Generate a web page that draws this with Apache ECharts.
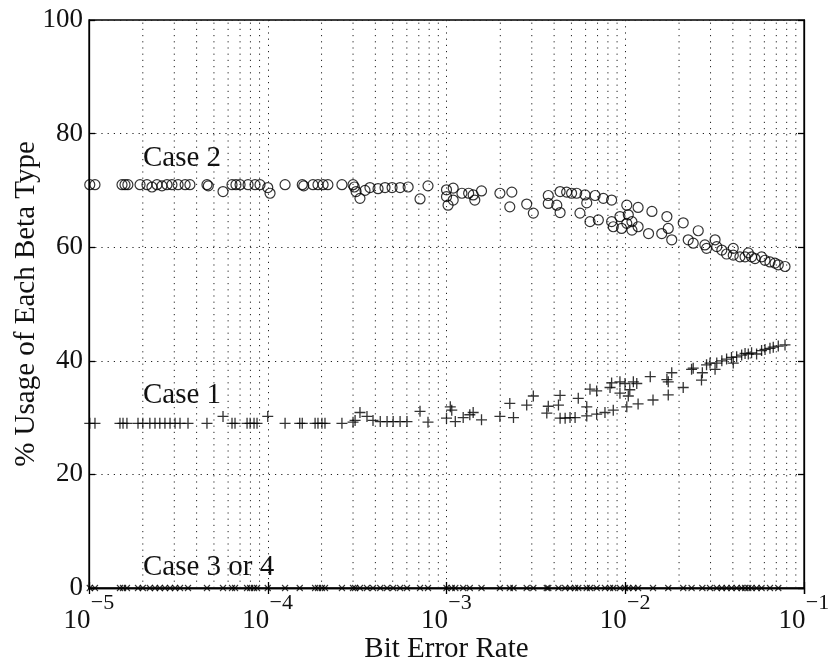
<!DOCTYPE html>
<html>
<head>
<meta charset="utf-8">
<script src="https://cdn.jsdelivr.net/npm/echarts@6/dist/echarts.min.js"></script>
<style>
  html, body { margin: 0; padding: 0; background: #fff; }
  #main { width: 830px; height: 662px; }
</style>
</head>
<body>
<div id="main"></div>
<script>
// Case 2 (circles)
var case2Ber = [1.01e-5, 1.08e-5, 1.53e-5, 1.59e-5, 1.65e-5, 1.93e-5, 2.11e-5, 2.25e-5, 2.40e-5, 2.56e-5,
  2.73e-5, 2.91e-5, 3.15e-5, 3.45e-5, 3.67e-5, 4.57e-5, 4.65e-5, 5.62e-5, 6.31e-5, 6.64e-5,
  7.00e-5, 7.76e-5, 8.49e-5, 9.05e-5, 1.00e-4, 1.03e-4, 1.25e-4, 1.56e-4, 1.59e-4, 1.79e-4,
  1.91e-4, 2.04e-4, 2.17e-4, 2.60e-4, 3.00e-4, 3.05e-4, 3.12e-4, 3.28e-4, 3.50e-4, 3.73e-4,
  4.14e-4, 4.53e-4, 4.96e-4, 5.50e-4, 6.10e-4, 7.11e-4, 7.88e-4,
  1.00e-3, 1.09e-3, 1.00e-3, 1.09e-3, 1.02e-3, 1.22e-3, 1.33e-3, 1.41e-3, 1.44e-3, 1.57e-3,
  1.99e-3, 2.26e-3, 2.32e-3, 2.81e-3, 3.06e-3, 3.71e-3, 3.71e-3, 4.14e-3, 4.32e-3, 4.32e-3,
  4.70e-3, 5.01e-3, 5.35e-3, 5.58e-3, 5.96e-3, 6.09e-3, 6.35e-3, 6.78e-3, 7.07e-3, 7.54e-3,
  8.39e-3, 8.39e-3, 8.57e-3, 9.34e-3, 9.54e-3, 1.02e-2, 1.02e-2, 1.04e-2, 1.09e-2, 1.09e-2,
  1.18e-2, 1.18e-2, 1.35e-2, 1.41e-2, 1.60e-2, 1.71e-2, 1.74e-2, 1.82e-2, 2.11e-2, 2.25e-2,
  2.40e-2, 2.56e-2, 2.79e-2, 2.85e-2, 3.18e-2, 3.25e-2, 3.47e-2, 3.69e-2, 4.02e-2, 4.02e-2,
  4.38e-2, 4.68e-2, 4.88e-2, 5.09e-2, 5.32e-2, 5.79e-2, 6.05e-2, 6.45e-2, 6.88e-2, 7.18e-2,
  7.83e-2];
var case2Pct = [71, 71, 71, 71, 71, 71, 71, 70.6, 71, 70.8,
  71, 71, 71, 71, 71, 71, 70.8, 69.8, 71, 71,
  71, 71, 71, 71, 70.5, 69.5, 71, 71, 70.8, 71,
  71, 71, 71, 71, 71, 70.6, 69.8, 68.6, 70, 70.5,
  70.3, 70.5, 70.5, 70.5, 70.6, 68.5, 70.8,
  70.1, 70.4, 68.9, 68.3, 67.4, 69.5, 69.5, 69.2, 68.3, 69.9,
  69.5, 67.1, 69.7, 67.6, 66.0, 69.1, 67.7, 67.4, 66.1, 69.8,
  69.7, 69.5, 69.5, 66.0, 69.2, 67.8, 64.5, 69.1, 64.8, 68.6,
  68.3, 64.5, 63.6, 65.4, 63.3, 67.4, 64.2, 65.7, 64.5, 63.0,
  67.0, 63.6, 62.4, 66.3, 62.4, 65.4, 63.3, 61.3, 64.3, 61.3,
  60.7, 62.9, 60.4, 59.8, 61.3, 60.1, 59.5, 58.8, 59.8, 58.6,
  58.3, 58.3, 59.0, 58.3, 58.0, 58.3, 57.7, 57.4, 57.2, 56.9,
  56.6];

// Case 1 (plus)
var case1Ber = [1.01e-5, 1.08e-5, 1.49e-5, 1.55e-5, 1.63e-5, 1.88e-5, 2.00e-5, 2.19e-5, 2.34e-5, 2.49e-5,
  2.66e-5, 2.84e-5, 3.03e-5, 3.23e-5, 3.58e-5, 4.57e-5, 5.62e-5, 6.31e-5, 6.56e-5, 7.66e-5,
  7.97e-5, 8.38e-5, 8.71e-5, 1.00e-4, 1.25e-4, 1.51e-4, 1.56e-4, 1.84e-4, 1.91e-4, 2.01e-4,
  2.09e-4, 2.60e-4, 3.00e-4, 3.08e-4, 3.28e-4, 3.59e-4, 3.88e-4, 4.26e-4, 4.65e-4, 5.03e-4,
  5.50e-4, 6.01e-4, 7.11e-4, 7.88e-4,
  1.05e-3, 1.07e-3, 1.00e-3, 1.12e-3, 1.24e-3, 1.35e-3, 1.41e-3, 1.57e-3, 1.99e-3, 2.26e-3,
  2.37e-3, 2.81e-3, 3.06e-3, 3.64e-3, 3.71e-3, 4.23e-3, 4.32e-3, 4.32e-3, 4.61e-3, 4.91e-3,
  5.24e-3, 5.46e-3, 6.09e-3, 6.09e-3, 6.35e-3, 6.92e-3, 6.92e-3, 7.70e-3, 8.22e-3, 8.39e-3,
  8.57e-3, 9.34e-3, 9.34e-3, 9.97e-3, 1.02e-2, 1.04e-2, 1.06e-2, 1.11e-2, 1.16e-2, 1.18e-2,
  1.38e-2, 1.43e-2, 1.71e-2, 1.74e-2, 1.74e-2, 1.82e-2, 2.11e-2, 2.35e-2, 2.40e-2, 2.67e-2,
  2.70e-2, 2.85e-2, 2.98e-2, 3.18e-2, 3.25e-2, 3.47e-2, 3.69e-2, 3.93e-2, 4.02e-2, 4.20e-2,
  4.48e-2, 4.68e-2, 4.88e-2, 5.09e-2, 5.43e-2, 5.79e-2, 6.05e-2, 6.45e-2, 6.73e-2, 7.18e-2,
  7.83e-2];
var case1Pct = [29, 29, 29, 29, 29, 29, 29, 29, 29, 29,
  29, 29, 29, 29, 29, 29, 30.2, 29, 29, 29,
  29, 29, 29, 30.2, 29, 29, 29, 29, 29, 29,
  29, 29, 29.2, 29.5, 30.9, 30.2, 29.5, 29.3, 29.3, 29.3,
  29.3, 29.3, 31.1, 29.2,
  31.9, 31.3, 29.9, 29.3, 30.0, 30.5, 30.9, 29.6, 30.2, 32.5,
  30.0, 32.2, 33.8, 30.8, 32.0, 32.2, 33.9, 29.9, 29.9, 30.0,
  30.0, 33.4, 31.9, 30.3, 35.0, 34.7, 30.6, 30.9, 35.3, 36.1,
  31.3, 36.3, 34.3, 36.0, 31.9, 33.8, 34.9, 36.3, 36.0, 32.4,
  37.2, 33.1, 36.7, 34.0, 36.3, 37.9, 35.3, 38.5, 38.7, 36.6,
  37.9, 39.3, 39.6, 38.5, 39.6, 40.0, 40.3, 40.6, 39.6, 40.7,
  41.0, 41.3, 41.2, 41.4, 41.2, 41.8, 42.0, 42.2, 42.4, 42.6,
  42.8];

// Case 3 or 4 (x marks, all at 0)
var case34Ber = [1.01e-5, 1.08e-5, 1.49e-5, 1.55e-5, 1.63e-5, 1.88e-5, 2.00e-5, 2.19e-5, 2.34e-5, 2.49e-5,
  2.66e-5, 2.84e-5, 3.03e-5, 3.23e-5, 3.58e-5, 4.57e-5, 5.62e-5, 6.31e-5, 6.56e-5, 7.66e-5,
  7.97e-5, 8.38e-5, 8.71e-5, 1.00e-4, 1.25e-4, 1.51e-4, 1.84e-4, 1.91e-4, 2.01e-4, 2.09e-4,
  2.60e-4, 3.00e-4, 3.08e-4, 3.28e-4, 3.59e-4, 3.88e-4, 4.26e-4, 4.65e-4, 5.03e-4, 5.50e-4,
  6.01e-4, 7.11e-4, 7.88e-4, 1.00e-3, 1.07e-3, 1.12e-3, 1.24e-3, 1.35e-3, 1.57e-3, 1.99e-3,
  2.26e-3, 2.37e-3, 2.81e-3, 3.06e-3, 3.64e-3, 3.71e-3, 4.23e-3, 4.61e-3, 4.91e-3, 5.24e-3,
  5.46e-3, 6.09e-3, 6.35e-3, 6.92e-3, 7.70e-3, 8.22e-3, 8.57e-3, 9.34e-3, 9.97e-3, 1.04e-2,
  1.11e-2, 1.18e-2, 1.43e-2, 1.74e-2, 2.11e-2, 2.35e-2, 2.70e-2, 2.98e-2, 3.25e-2, 3.47e-2,
  3.69e-2, 3.93e-2, 4.20e-2, 4.48e-2, 4.68e-2, 4.88e-2, 5.09e-2, 5.43e-2, 5.79e-2, 6.45e-2,
  7.18e-2];
var case34Pct = [0, 0, 0, 0, 0, 0, 0, 0, 0, 0,
  0, 0, 0, 0, 0, 0, 0, 0, 0, 0,
  0, 0, 0, 0, 0, 0, 0, 0, 0, 0,
  0, 0, 0, 0, 0, 0, 0, 0, 0, 0,
  0, 0, 0, 0, 0, 0, 0, 0, 0, 0,
  0, 0, 0, 0, 0, 0, 0, 0, 0, 0,
  0, 0, 0, 0, 0, 0, 0, 0, 0, 0,
  0, 0, 0, 0, 0, 0, 0, 0, 0, 0,
  0, 0, 0, 0, 0, 0, 0, 0, 0, 0,
  0];

var yTicks = [0, 20, 40, 60, 80, 100];
var caseLabels = ['Case 2', 'Case 1', 'Case 3 or 4'];

var FONT = '"Liberation Serif", "DejaVu Serif", serif';

function pairs(xs, ys) {
  var out = [];
  for (var i = 0; i < xs.length; i++) out.push([xs[i], ys[i]]);
  return out;
}

var dotted = { color: '#222', width: 1, type: [1.2, 5] };
var edge = { color: '#000', width: 1.3 };

// minor log grid lines 2..9 in each decade, drawn as plain line series
var gridSeries = [];
for (var d = -5; d < -1; d++) {
  for (var k = 2; k <= 9; k++) {
    var v = k * Math.pow(10, d);
    gridSeries.push({
      type: 'line',
      silent: true,
      symbol: 'none',
      z: 1,
      lineStyle: dotted,
      data: [[v, 0], [v, 100]]
    });
  }
}

var option = {
  backgroundColor: '#fff',
  animation: false,
  grid: {
    left: 89, right: 26, top: 20, bottom: 74,
    containLabel: false, outerBoundsMode: 'none',
    show: true, borderColor: '#000', borderWidth: 1.3
  },
  xAxis: [{
    type: 'log',
    logBase: 10,
    min: 1e-5,
    max: 1e-1,
    name: 'Bit Error Rate',
    nameLocation: 'middle',
    nameGap: 47,
    nameMoveOverlap: false,
    nameTextStyle: { fontFamily: FONT, fontSize: 29, color: '#111' },
    axisLine: { show: true, lineStyle: edge },
    axisTick: { show: true, inside: true, length: 6, lineStyle: edge },
    splitLine: { show: true, lineStyle: dotted },
    axisLabel: {
      margin: 8,
      formatter: function (v) {
        var e = Math.round(Math.log10(v));
        return '{p1|}{s|\u2212' + Math.abs(e) + '}\n{b|10}{p2|}';
      },
      rich: {
        p1: { width: 27, lineHeight: 14 },
        s: { fontFamily: FONT, fontSize: 22, color: '#111', width: 24, align: 'left', lineHeight: 14 },
        b: { fontFamily: FONT, fontSize: 27, color: '#111', width: 27, align: 'left', lineHeight: 22 },
        p2: { width: 24, lineHeight: 22 }
      }
    }
  }, {
    type: 'log',
    logBase: 10,
    min: 1e-5,
    max: 1e-1,
    position: 'top',
    axisLine: { show: true, lineStyle: edge },
    axisTick: { show: true, inside: true, length: 6, lineStyle: edge },
    axisLabel: { show: false },
    splitLine: { show: false }
  }],
  yAxis: [{
    type: 'value',
    min: 0,
    max: 100,
    interval: 20,
    name: '% Usage of Each Beta Type',
    nameLocation: 'middle',
    nameGap: 48,
    nameMoveOverlap: false,
    nameTextStyle: { fontFamily: FONT, fontSize: 29, color: '#111' },
    axisLine: { show: true, lineStyle: edge },
    axisTick: { show: true, inside: true, length: 6, lineStyle: edge },
    splitLine: { show: true, lineStyle: dotted },
    axisLabel: {
      margin: 6,
      fontFamily: FONT, fontSize: 27, color: '#111',
      formatter: function (v) { return yTicks.indexOf(v) >= 0 ? String(v) : ''; }
    }
  }, {
    type: 'value',
    min: 0,
    max: 100,
    interval: 20,
    position: 'right',
    axisLine: { show: true, lineStyle: edge },
    axisTick: { show: true, inside: true, length: 6, lineStyle: edge },
    axisLabel: { show: false },
    splitLine: { show: false }
  }],
  graphic: [
    { type: 'text', left: 143, top: 144, style: { text: caseLabels[0], font: '29px ' + FONT, fill: '#111' } },
    { type: 'text', left: 143, top: 381, style: { text: caseLabels[1], font: '29px ' + FONT, fill: '#111' } },
    { type: 'text', left: 143, top: 553, style: { text: caseLabels[2], font: '29px ' + FONT, fill: '#111' } }
  ],
  series: gridSeries.concat([{
    name: caseLabels[0],
    type: 'scatter',
    symbol: 'circle',
    symbolSize: 10,
    clip: false,
    z: 3,
    itemStyle: { color: 'transparent', borderColor: '#000', borderWidth: 1.2 },
    data: pairs(case2Ber, case2Pct)
  }, {
    name: caseLabels[1],
    type: 'scatter',
    symbol: 'path://M0,5L10,5M5,0L5,10',
    symbolSize: 11,
    clip: false,
    z: 3,
    itemStyle: { color: 'transparent', borderColor: '#000', borderWidth: 1.3 },
    data: pairs(case1Ber, case1Pct)
  }, {
    name: caseLabels[2],
    type: 'scatter',
    symbol: 'path://M0,0L10,10M0,10L10,0',
    symbolSize: 6,
    clip: false,
    z: 3,
    itemStyle: { color: 'transparent', borderColor: '#000', borderWidth: 1.1 },
    data: pairs(case34Ber, case34Pct)
  }])
};

echarts.init(document.getElementById('main'), null, { renderer: 'canvas' }).setOption(option);
</script>
</body>
</html>
